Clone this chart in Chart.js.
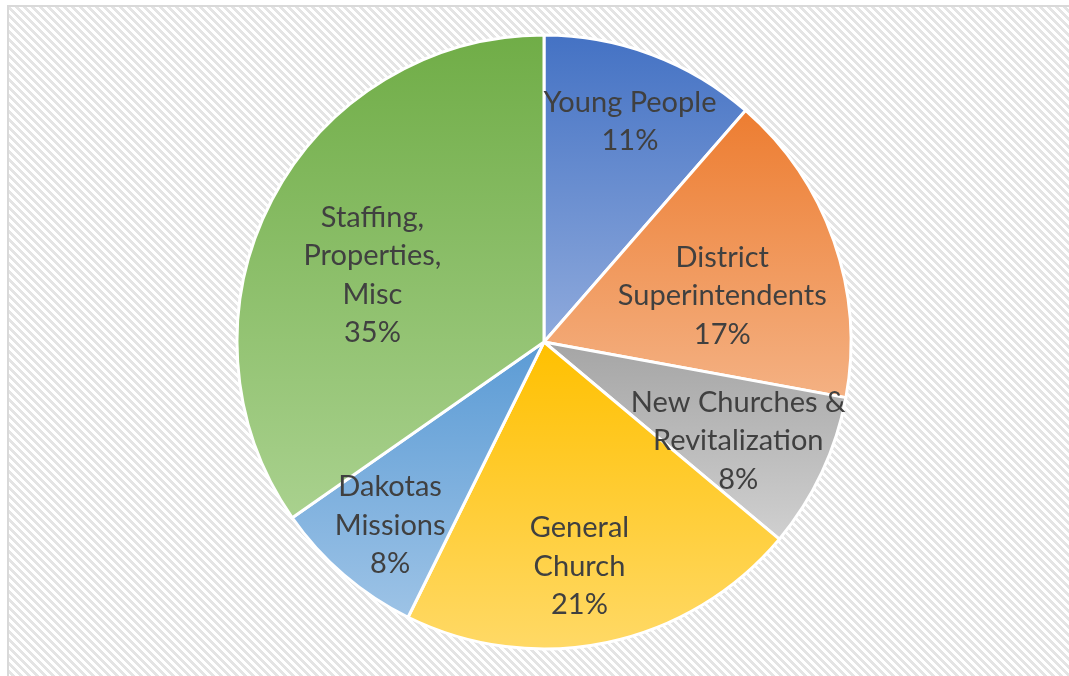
<!DOCTYPE html>
<html>
<head>
<meta charset="utf-8">
<script src="https://cdn.jsdelivr.net/npm/chart.js@4/dist/chart.umd.min.js"></script>
<style>
  html, body { margin: 0; padding: 0; background: #fff; }
  #wrap { width: 1069px; height: 676px; }
</style>
</head>
<body>
<div id="wrap"><canvas id="pie"></canvas></div>
<script>
// slices, clockwise from 12 o'clock
const categories = [
  ['Young People'],
  ['District', 'Superintendents'],
  ['New Churches &', 'Revitalization'],
  ['General', 'Church'],
  ['Dakotas', 'Missions'],
  ['Staffing,', 'Properties,', 'Misc'],
];
const shares = [11.4, 16.5, 8.2, 21.2, 8.0, 34.7];

// gradient top -> bottom for each slice
const topColors = ['#4472c4', '#ed7d31', '#a5a5a5', '#ffc000', '#5b9bd5', '#70ad47'];
const bottomColors = ['#8faadc', '#f4b183', '#d0d0d0', '#ffd966', '#9dc3e6', '#a9d18e'];

// label placement: fraction of radius, nudge in degrees from mid angle
const labelSpots = [[0.77, 0.8], [0.60, 4.7], [0.71, 1.8], [0.74, 2.9], [0.78, -0.7], [0.60, -6.2]];

const RADIUS = 307;
const total = shares.reduce((a, b) => a + b, 0);

function sliceGradient(ctx) {
  const chart = ctx.chart;
  const area = chart.chartArea;
  const i = ctx.dataIndex;
  if (!area) return topColors[i];
  const cx = (area.left + area.right) / 2;
  const cy = (area.top + area.bottom) / 2;
  let before = 0;
  for (let k = 0; k < i; k++) before += shares[k];
  const a0 = -Math.PI / 2 + before / total * 2 * Math.PI;
  const a1 = a0 + shares[i] / total * 2 * Math.PI;
  const ys = [cy, cy + RADIUS * Math.sin(a0), cy + RADIUS * Math.sin(a1)];
  for (const t of [-Math.PI / 2, Math.PI / 2, 3 * Math.PI / 2]) {
    if (t >= a0 && t <= a1) ys.push(cy + RADIUS * Math.sin(t));
  }
  const y0 = Math.min(...ys), y1 = Math.max(...ys);
  const g = chart.ctx.createLinearGradient(0, y0, 0, y1);
  g.addColorStop(0, topColors[i]);
  g.addColorStop(1, bottomColors[i]);
  return g;
}

const backdrop = {
  id: 'backdrop',
  beforeDraw(chart) {
    const c = chart.ctx;
    const tile = document.createElement('canvas');
    tile.width = 8; tile.height = 8;
    const t = tile.getContext('2d');
    t.fillStyle = '#ffffff';
    t.fillRect(0, 0, 8, 8);
    t.fillStyle = '#e4e4e4';
    for (let y = 0; y < 8; y++) {
      for (let x = 0; x < 8; x++) {
        if (((x - y) % 8 + 8) % 8 < 4) t.fillRect(x, y, 1, 1);
      }
    }
    c.save();
    c.fillStyle = '#ffffff';
    c.fillRect(0, 0, chart.width, chart.height);
    c.fillStyle = c.createPattern(tile, 'repeat');
    c.fillRect(8, 6, chart.width - 8, chart.height - 6);
    c.strokeStyle = '#d9d9d9';
    c.lineWidth = 2;
    c.beginPath();
    c.moveTo(8, chart.height);
    c.lineTo(8, 6);
    c.lineTo(chart.width, 6);
    c.stroke();
    c.restore();
  }
};

const sliceLabels = {
  id: 'sliceLabels',
  afterDatasetsDraw(chart) {
    const c = chart.ctx;
    const meta = chart.getDatasetMeta(0);
    c.save();
    c.font = '29px Lato';
    c.fillStyle = '#404040';
    c.textAlign = 'center';
    c.textBaseline = 'middle';
    const lh = 38.5;
    meta.data.forEach((arc, i) => {
      const [frac, nudge] = labelSpots[i];
      const mid = (arc.startAngle + arc.endAngle) / 2 + nudge * Math.PI / 180;
      const r = arc.outerRadius * frac;
      const x = arc.x + r * Math.cos(mid);
      const y = arc.y + r * Math.sin(mid);
      const lines = categories[i].concat([Math.round(shares[i] / total * 100) + '%']);
      lines.forEach((txt, j) => {
        c.fillText(txt, x, y + (j - (lines.length - 1) / 2) * lh);
      });
    });
    c.restore();
  }
};

new Chart(document.getElementById('pie'), {
  type: 'pie',
  data: {
    labels: categories,
    datasets: [{
      data: shares,
      backgroundColor: sliceGradient,
      borderColor: '#ffffff',
      borderWidth: 3,
    }]
  },
  options: {
    responsive: true,
    maintainAspectRatio: false,
    animation: false,
    radius: RADIUS,
    layout: { padding: { left: 19, right: 0, top: 8, bottom: 0 } },
    plugins: {
      legend: { display: false },
      tooltip: { enabled: false },
    }
  },
  plugins: [backdrop, sliceLabels]
});
</script>
</body>
</html>
